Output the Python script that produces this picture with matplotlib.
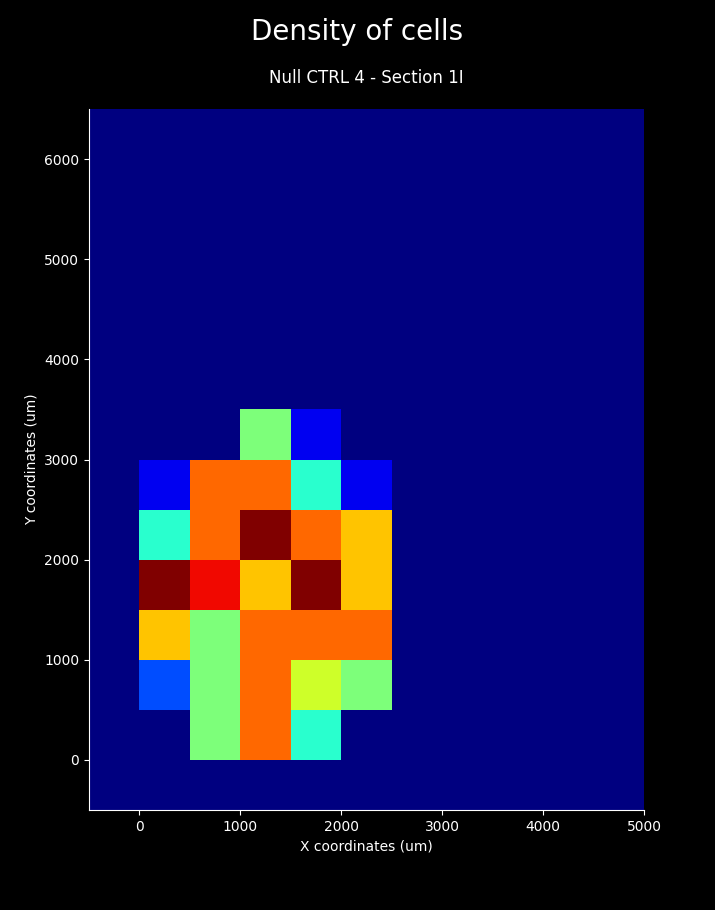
import numpy as np
import matplotlib
matplotlib.use("Agg")
import matplotlib.pyplot as plt

# bin edges (um)
x_edges = np.arange(-500, 5001, 500)
y_edges = np.arange(-500, 6501, 500)

# cell counts for bins x = 0..2500, y = 0..3500 (rows from bottom to top)
x_start = 0
y_start = 0
counts = [
    [0, 5, 8, 4, 0],    # y 0-500
    [2, 5, 8, 6, 5],    # y 500-1000
    [7, 5, 8, 8, 8],    # y 1000-1500
    [10, 9, 7, 10, 7],  # y 1500-2000
    [4, 8, 10, 8, 7],   # y 2000-2500
    [1, 8, 8, 4, 1],    # y 2500-3000
    [0, 0, 5, 1, 0],    # y 3000-3500
]

grid = np.zeros((len(y_edges) - 1, len(x_edges) - 1))
i0 = int((y_start - y_edges[0]) / 500)
j0 = int((x_start - x_edges[0]) / 500)
c = np.array(counts)
grid[i0:i0 + c.shape[0], j0:j0 + c.shape[1]] = c

plt.style.use("dark_background")
fig = plt.figure(figsize=(7.15, 9.1), dpi=100)
ax = fig.add_axes([0.1245, 0.1099, 0.7762, 0.7703])

ax.pcolormesh(x_edges, y_edges, grid, cmap="jet", vmin=0, vmax=10)
ax.set_xlim(-500, 5000)
ax.set_ylim(-500, 6500)
ax.set_xticks([0, 1000, 2000, 3000, 4000, 5000])
ax.set_yticks([0, 1000, 2000, 3000, 4000, 5000, 6000])
ax.spines["top"].set_visible(False)
ax.spines["right"].set_visible(False)
ax.set_xlabel("X coordinates (um)")
ax.set_ylabel("Y coordinates (um)")
ax.set_title("Null CTRL 4 - Section 1I", fontsize=12, pad=18.5)
fig.suptitle("Density of cells", fontsize=20, y=0.9805)

fig.savefig("out.png", dpi=100, facecolor="black")
